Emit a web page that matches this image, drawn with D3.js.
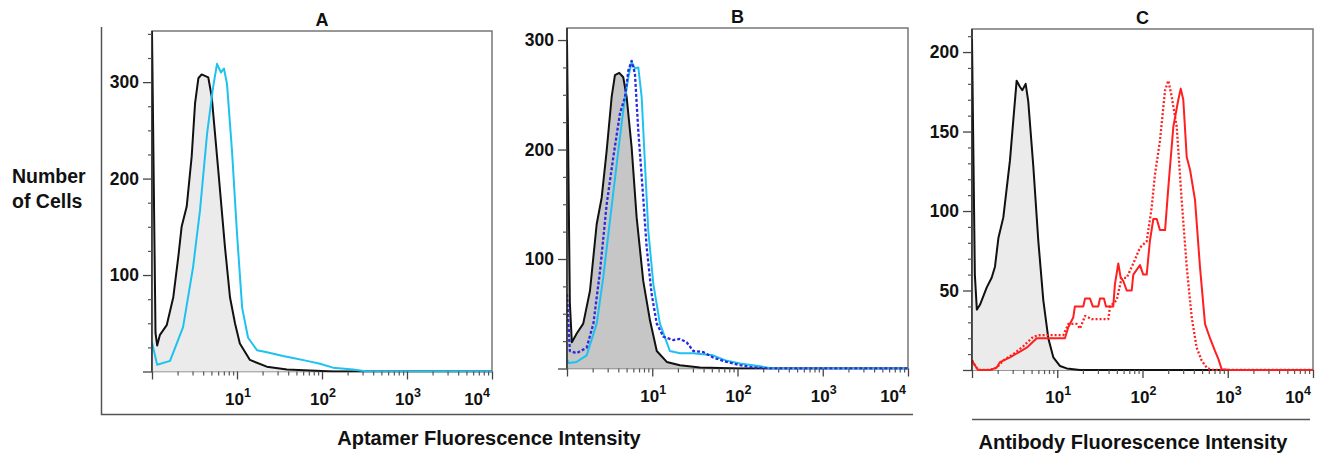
<!DOCTYPE html>
<html>
<head>
<meta charset="utf-8">
<script src="https://cdn.jsdelivr.net/npm/d3@7"></script>
<style>
  html, body { margin: 0; padding: 0; background: #fff; }
  svg text { font-family: "Liberation Sans", Arial, Helvetica, sans-serif; fill: #111; }
</style>
</head>
<body>
<svg id="chart" width="1323" height="456"></svg>
<script>
// ---------- DATA (intensity, number of cells) ----------
const panelTitles = ["A", "B", "C"];
const xTickValues = [10, 100, 1000, 10000];
const xTickExps = ["1", "2", "3", "4"];
const yTicksA = [100, 200, 300];
const yTicksB = [100, 200, 300];
const yTicksC = [50, 100, 150, 200];
const yLabel = ["Number", "of Cells"];
const xLabelAptamer = "Aptamer Fluorescence Intensity";
const xLabelAntibody = "Antibody Fluorescence Intensity";

const aControl = [[1,353],[1.1,40],[1.15,27],[1.24,38],[1.49,48],[1.78,77],[2.04,119],[2.23,150],[2.56,171],[2.93,223],[3.21,278],[3.51,304],[3.84,308],[4.59,305],[5.04,285],[6.03,208],[7.22,129],[8.27,77],[9.47,50],[10.8,29],[14.2,12],[22.4,5],[38.7,2],[135,0],[10000,0]];
const aAptamer = [[1,30],[1.15,7],[1.63,11],[2.32,46],[3.04,108],[3.67,167],[4.44,246],[5.22,294],[5.82,319],[6.48,310],[7.03,314],[7.63,298],[8.73,229],[10,143],[11.5,66],[13.5,35],[17.2,22],[22.5,20],[34.8,16],[45.6,14],[66.6,11],[94.7,8],[135,4],[232,2],[339,0],[10000,0]];

const bControl = [[1,300],[1.08,60],[1.14,24],[1.30,32],[1.55,41],[1.86,71],[2.23,132],[2.55,156],[2.92,199],[3.34,248],[3.65,268],[4.10,270],[4.57,266],[5.01,248],[5.73,202],[6.56,138],[7.84,80],[9.40,44],[11.3,16],[14.8,6],[21.1,3],[36.3,1],[107,0],[10000,0]];
const bCyan = [[1,8],[1.05,5],[1.30,6],[1.70,12],[2.23,41],[2.66,83],[3.19,135],[3.83,187],[4.57,236],[5.24,266],[5.73,280],[6.27,274],[6.86,275],[7.51,248],[8.21,187],[8.98,126],[10.3,77],[12.3,41],[16.1,16],[21.1,14],[30,14],[51.5,12],[75.1,7],[107,4.5],[183,2],[260,0],[10000,0]];
const bBlue = [[1,68],[1.08,16],[1.30,14],[1.70,19],[2.04,41],[2.44,89],[2.92,150],[3.49,193],[4.18,233],[4.79,248],[5.24,272],[5.73,281],[6.27,269],[6.86,217],[7.84,156],[8.59,111],[9.84,68],[11.3,41],[13.5,29],[17.6,26],[21.1,27],[25.3,24],[30.3,16],[39.6,15],[51.9,10],[74.5,6],[107,3],[152,1],[240,0],[10000,0]];

const cControl = [[1,208],[1.08,60],[1.14,38],[1.24,41],[1.49,52],[1.70,58],[1.86,65],[2.04,83],[2.33,96],[2.79,132],[3.05,157],[3.34,182],[3.66,178],[3.89,176],[4.26,180],[4.57,169],[5.24,128],[6.00,81],[6.86,44],[7.85,20],[8.99,8],[10.8,2.5],[12.9,1],[18.5,0],[10000,0]];
const cAntibody = [[1,6],[1.08,3],[1.18,0],[1.63,0],[1.95,1.5],[2.13,5],[2.79,8],[3.49,11],[4.38,14],[5.74,20],[12.3,20],[13.5,27],[15.4,33],[16.1,40],[20.2,40],[21.2,45],[24.2,45],[26.1,40],[30.3,40],[31.7,45],[35.3,45],[37.3,40],[45.4,40],[47.5,54],[52,67],[55.5,58],[59.5,56],[65.3,50],[74.7,50],[78,60],[93.5,66],[102,60],[112,60],[122,81],[134,95],[147,95],[160,88],[184,88],[201,115],[230,153],[263,170],[281,177],[301,170],[330,134],[361,126],[413,107],[472,65],[541,29],[619,20],[708,12],[775,7],[849,0.5],[1062,0],[10000,0]];
const cAntibodyDotted = [[1,6],[1.08,3],[1.18,0],[1.63,0],[1.95,1.5],[2.33,6],[3.05,10],[4.0,15],[5.24,21],[6.28,22],[11.8,22],[13.5,29],[16.9,29],[18.5,26],[21.2,34],[25.4,32],[39.7,32],[41.6,40],[49.8,44],[57,58],[65.3,58],[78,67],[93.5,77],[112,81],[128,102],[140,123],[160,144],[184,176],[201,182],[220,172],[252,153],[288,107],[330,65],[378,33],[432,14],[494,6],[566,1.5],[653,0],[10000,0]];

// ---------- LAYOUT ----------
const svg = d3.select("#chart");
const FONT = "'Liberation Sans', Arial, Helvetica, sans-serif";
const CYAN = "#1dc2f0", BLUE = "#2a2ade", RED = "#ff1f1f";

const panels = [
  { id: "A", title: panelTitles[0], x0: 152, x1: 492, y0: 31, y1: 371.5, ymax: 353, minorStep: 25, yTicks: yTicksA, fill: "#ebebeb",
    control: aControl, lines: [{ data: aAptamer, color: CYAN, dash: null }] },
  { id: "B", title: panelTitles[1], x0: 567, x1: 908, y0: 28, y1: 368.5, ymax: 311, minorStep: 25, yTicks: yTicksB, fill: "#c6c6c6",
    control: bControl, lines: [{ data: bCyan, color: CYAN, dash: null }, { data: bBlue, color: BLUE, dash: "3,2" }] },
  { id: "C", title: panelTitles[2], x0: 972, x1: 1313, y0: 29, y1: 370, ymax: 214.5, minorStep: 10, yTicks: yTicksC, fill: "#ebebeb",
    control: cControl, lines: [{ data: cAntibodyDotted, color: RED, dash: "2,2" }, { data: cAntibody, color: RED, dash: null }] }
];

const defs = svg.append("defs");

panels.forEach(p => {
  const x = d3.scaleLog().domain([1, 1e4]).range([p.x0, p.x1]);
  const y = d3.scaleLinear().domain([0, p.ymax]).range([p.y1, p.y0]);
  const g = svg.append("g");

  defs.append("clipPath").attr("id", "clip" + p.id)
    .append("rect").attr("x", p.x0).attr("y", p.y0).attr("width", p.x1 - p.x0).attr("height", p.y1 - p.y0 + 1);

  // frame
  g.append("rect").attr("x", p.x0).attr("y", p.y0).attr("width", p.x1 - p.x0).attr("height", p.y1 - p.y0)
    .attr("fill", "none").attr("stroke", "#777").attr("stroke-width", 1.5);

  const plot = g.append("g").attr("clip-path", `url(#clip${p.id})`);
  const area = d3.area().x(d => x(d[0])).y0(y(0)).y1(d => y(d[1]));
  const line = d3.line().x(d => x(d[0])).y(d => y(d[1]));

  plot.append("path").datum(p.control).attr("d", area).attr("fill", p.fill);
  plot.append("path").datum(p.control).attr("d", line).attr("fill", "none")
    .attr("stroke", "#111").attr("stroke-width", 2).attr("stroke-linejoin", "round");
  p.lines.forEach(l => {
    plot.append("path").datum(l.data).attr("d", line).attr("fill", "none")
      .attr("stroke", l.color).attr("stroke-width", l.dash ? 2.3 : 2)
      .attr("stroke-dasharray", l.dash).attr("stroke-linejoin", "round");
  });

  // left axis line
  g.append("line").attr("x1", p.x0).attr("x2", p.x0).attr("y1", p.y0).attr("y2", p.y1)
    .attr("stroke", "#222").attr("stroke-width", 1.5);

  // y axis: minor ticks
  const minor = d3.range(0, p.ymax + 0.001, p.minorStep).filter(v => !p.yTicks.includes(v) && v !== 0);
  const yMinor = g.append("g").attr("transform", `translate(${p.x0},0)`)
    .call(d3.axisLeft(y).tickValues(minor).tickSize(4).tickFormat(""));
  yMinor.select(".domain").remove();
  yMinor.selectAll(".tick line").attr("stroke", "#555").attr("stroke-width", 1.2);

  const yMajor = g.append("g").attr("transform", `translate(${p.x0},0)`)
    .call(d3.axisLeft(y).tickValues([0].concat(p.yTicks)).tickSize(9).tickPadding(4)
      .tickFormat(v => v === 0 ? "" : String(v)));
  yMajor.select(".domain").remove();
  yMajor.selectAll(".tick line").attr("stroke", "#444").attr("stroke-width", 1.3);
  yMajor.selectAll(".tick text").attr("font-family", FONT).attr("font-size", 17.5)
    .attr("font-weight", "bold").attr("fill", "#111");

  // x axis: minor ticks (2..9 per decade)
  const xMinor = [];
  [1, 10, 100, 1000].forEach(d => { for (let k = 2; k <= 9; k++) xMinor.push(d * k); });
  const xm = g.append("g").attr("transform", `translate(0,${p.y1})`)
    .call(d3.axisBottom(x).tickValues(xMinor).tickSize(4).tickFormat(""));
  xm.select(".domain").remove();
  xm.selectAll(".tick line").attr("stroke", "#555").attr("stroke-width", 1.2);
  const xM = g.append("g").attr("transform", `translate(0,${p.y1})`)
    .call(d3.axisBottom(x).tickValues([1].concat(xTickValues)).tickSize(8).tickFormat(""));
  xM.select(".domain").remove();
  xM.selectAll(".tick line").attr("stroke", "#444").attr("stroke-width", 1.3);

  // x tick labels 10^n
  xTickValues.forEach((v, i) => {
    const last = i === xTickValues.length - 1;
    const t = g.append("text").attr("x", last ? x(v) - 2 : x(v) + 1).attr("y", p.y1 + 33)
      .attr("text-anchor", last ? "end" : "middle")
      .attr("font-family", FONT).attr("font-size", 17).attr("font-weight", "bold");
    t.append("tspan").text("10");
    t.append("tspan").attr("dy", -8).attr("font-size", 12.5).text(xTickExps[i]);
  });

  // panel title
  g.append("text").attr("x", (p.x0 + p.x1) / 2).attr("y", p.y0 - 5.5)
    .attr("text-anchor", "middle").attr("font-family", FONT).attr("font-size", 18)
    .attr("font-weight", "bold").text(p.title);
});

// outer frame around A and B
svg.append("path").attr("d", "M101.5,27 V414.5 H913").attr("fill", "none")
  .attr("stroke", "#555").attr("stroke-width", 1.5);
// line under C
svg.append("line").attr("x1", 972).attr("x2", 1310).attr("y1", 419.5).attr("y2", 419.5)
  .attr("stroke", "#555").attr("stroke-width", 1.5);

// axis titles
const yl = svg.append("text").attr("font-family", FONT).attr("font-size", 19.5).attr("font-weight", "bold");
yl.append("tspan").attr("x", 12).attr("y", 182.5).text(yLabel[0]);
yl.append("tspan").attr("x", 12).attr("y", 208).text(yLabel[1]);

svg.append("text").attr("x", 489).attr("y", 445).attr("text-anchor", "middle")
  .attr("font-family", FONT).attr("font-size", 20).attr("font-weight", "bold").text(xLabelAptamer);
svg.append("text").attr("x", 1133).attr("y", 449).attr("text-anchor", "middle")
  .attr("font-family", FONT).attr("font-size", 20).attr("font-weight", "bold").text(xLabelAntibody);
</script>
</body>
</html>
